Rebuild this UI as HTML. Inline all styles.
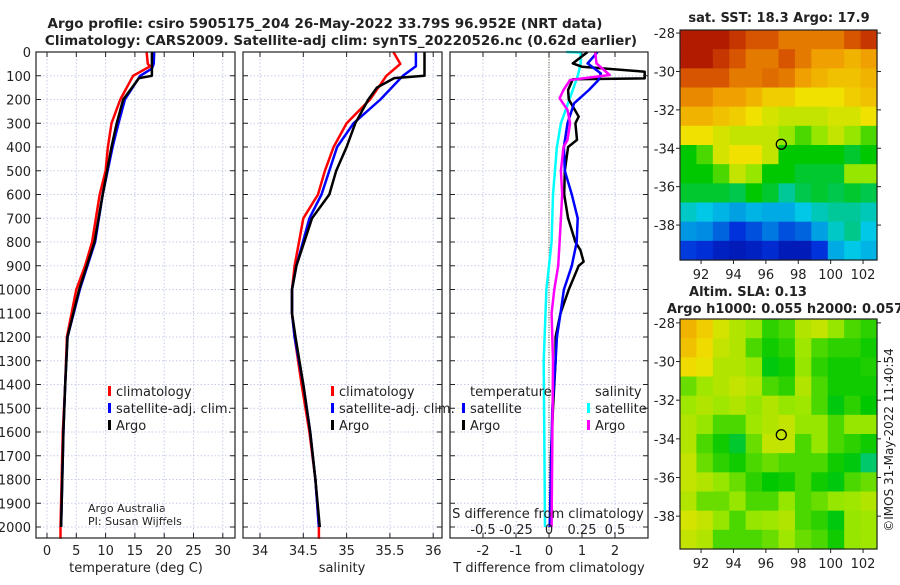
<!DOCTYPE html>
<html><head><meta charset="utf-8"><style>
body{margin:0;background:#fff;font-family:"Liberation Sans","DejaVu Sans",sans-serif}
svg text{font-family:"DejaVu Sans","Liberation Sans",sans-serif;fill:#222}
</style></head><body>
<svg id="s" width="900" height="580" viewBox="0 0 900 580" xmlns="http://www.w3.org/2000/svg">
<text x="325" y="28" text-anchor="middle" font-size="13.5" font-weight="bold">Argo profile: csiro 5905175_204 26-May-2022 33.79S 96.952E (NRT data)</text>
<text x="341" y="45" text-anchor="middle" font-size="13.5" font-weight="bold">Climatology: CARS2009. Satellite-adj clim: synTS_20220526.nc (0.62d earlier)</text>
<text x="779" y="22" text-anchor="middle" font-size="13" font-weight="bold">sat. SST: 18.3 Argo: 17.9</text>
<text x="748" y="296" text-anchor="middle" font-size="13" font-weight="bold">Altim. SLA: 0.13</text>
<text x="785" y="313" text-anchor="middle" font-size="13" font-weight="bold">Argo h1000: 0.055 h2000: 0.057</text>
<text transform="translate(893,440) rotate(-90)" text-anchor="middle" font-size="12">©IMOS 31-May-2022 11:40:54</text>
<text x="88" y="512" font-size="11">Argo Australia</text>
<text x="88" y="525" font-size="11">PI: Susan Wijffels</text>
</svg>
<script>
// ---- data ----
const depthTicks=[0,100,200,300,400,500,600,700,800,900,1000,1100,1200,1300,1400,1500,1600,1700,1800,1900,2000];
const tempTicks=[0,5,10,15,20,25,30];
const salTicks=[34,34.5,35,35.5,36];
const salTickLabels=['34','34.5','35','35.5','36'];
const tdTicks=[-2,-1,0,1,2];
const sdTicks=[-0.5,-0.25,0,0.25,0.5];
const sdTickLabels=['-0.5','-0.25','0','0.25','0.5'];
const lonTicks=[92,94,96,98,100,102];
const latTicks=[-28,-30,-32,-34,-36,-38];

const tClimD=[0,50,60,100,200,300,400,500,600,800,900,1000,1200,1400,1600,2000,2050];
const tClimV=[17,17.2,17.6,14.7,12.5,11,10.4,10,9,7.7,6.5,5,3.4,3.1,2.7,2.3,2.3];
const tSatD=[0,50,70,100,200,300,400,600,800,1000,1200,1400,1600,2000];
const tSatV=[18.3,18.2,17.9,15.9,13.3,12.2,11.2,9.5,8.2,5.6,3.5,3.1,2.8,2.4];
const tArgoD=[0,100,110,200,300,400,600,800,1000,1200,1400,1600,2000];
const tArgoV=[17.9,17.9,15.7,13,11.9,11,9.5,8.1,5.5,3.5,3.1,2.8,2.4];

const sClimD=[0,50,100,200,300,400,500,600,700,800,900,1000,1100,1200,1400,1600,1800,2000,2050];
const sClimV=[35.54,35.62,35.46,35.27,35.0,34.85,34.75,34.67,34.5,34.45,34.4,34.37,34.37,34.4,34.48,34.57,34.64,34.68,34.68];
const sSatD=[0,30,60,100,200,300,400,600,700,900,1000,1100,1200,1400,1600,1800,2000];
const sSatV=[35.8,35.8,35.8,35.65,35.39,35.08,34.89,34.71,34.57,34.42,34.37,34.37,34.4,34.5,34.58,34.64,34.68];
const sArgoD=[0,100,110,150,200,300,400,500,600,700,900,1000,1100,1200,1400,1600,1800,2000];
const sArgoV=[35.9,35.9,35.55,35.35,35.25,35.1,35.0,34.88,34.8,34.6,34.42,34.37,34.37,34.41,34.5,34.58,34.64,34.69];

const dTArgoD=[0,48,62,83,111,115,160,200,272,300,370,400,500,600,700,800,834,883,900,1000,1100,1200,1300,1500,1700,2000];
const dTArgoV=[1.17,0.72,1.0,2.9,2.9,0.72,0.58,0.6,0.9,0.8,0.85,0.58,0.48,0.46,0.58,0.8,0.95,1.05,0.9,0.6,0.35,0.2,0.2,0.12,0.06,0.05];
const dTSatD=[0,48,90,118,160,216,300,400,500,600,700,800,900,1000,1100,1200,1300,1500,2000];
const dTSatV=[1.47,1.17,1.57,1.5,1.21,0.76,0.56,0.45,0.48,0.69,0.87,0.84,0.69,0.45,0.35,0.24,0.2,0.1,0.02];
const dSArgoD=[0,48,97,118,160,195,244,300,370,400,500,600,700,800,900,1000,1100,1300,2000];
const dSArgoV=[0.35,0.36,0.46,0.16,0.11,0.08,0.14,0.16,0.14,0.11,0.09,0.1,0.09,0.08,0.07,0.04,0.02,0.03,0.02];
const dSSatD=[0,2,48,97,160,300,400,600,800,1000,1300,2000];
const dSSatV=[0.13,0.24,0.24,0.22,0.18,0.09,0.06,0.03,0.02,-0.02,-0.04,-0.03];

const sstGrid=[
[0.95,0.95,0.95,0.9,0.85,0.85,0.8,0.8,0.8,0.8,0.85,0.9],
[0.95,0.95,0.9,0.85,0.8,0.8,0.85,0.8,0.75,0.75,0.72,0.75],
[0.85,0.85,0.85,0.8,0.8,0.82,0.8,0.75,0.72,0.7,0.7,0.72],
[0.78,0.78,0.75,0.75,0.72,0.68,0.68,0.65,0.65,0.65,0.68,0.7],
[0.72,0.72,0.7,0.68,0.65,0.62,0.6,0.6,0.6,0.62,0.62,0.65],
[0.65,0.65,0.62,0.6,0.6,0.6,0.55,0.5,0.55,0.6,0.55,0.5],
[0.45,0.5,0.62,0.65,0.65,0.6,0.45,0.45,0.45,0.45,0.42,0.45],
[0.45,0.45,0.5,0.6,0.55,0.45,0.45,0.42,0.42,0.42,0.55,0.55],
[0.42,0.42,0.42,0.4,0.45,0.42,0.35,0.4,0.42,0.4,0.42,0.4],
[0.32,0.3,0.28,0.26,0.28,0.27,0.27,0.3,0.33,0.35,0.35,0.33],
[0.25,0.24,0.2,0.15,0.18,0.22,0.18,0.2,0.26,0.32,0.36,0.3],
[0.16,0.14,0.1,0.08,0.1,0.13,0.08,0.08,0.15,0.27,0.3,0.28]];
const slaGrid=[
[0.72,0.68,0.62,0.58,0.55,0.48,0.5,0.58,0.6,0.55,0.5,0.48],
[0.7,0.66,0.6,0.58,0.5,0.46,0.48,0.56,0.5,0.48,0.48,0.46],
[0.66,0.64,0.58,0.58,0.55,0.44,0.46,0.55,0.48,0.46,0.46,0.47],
[0.52,0.56,0.58,0.6,0.58,0.5,0.48,0.58,0.5,0.46,0.46,0.46],
[0.56,0.58,0.56,0.58,0.55,0.58,0.55,0.56,0.5,0.44,0.48,0.45],
[0.58,0.55,0.5,0.5,0.56,0.58,0.6,0.55,0.55,0.5,0.55,0.55],
[0.58,0.5,0.46,0.42,0.52,0.6,0.6,0.5,0.55,0.5,0.48,0.46],
[0.6,0.52,0.48,0.46,0.5,0.52,0.5,0.5,0.5,0.46,0.44,0.38],
[0.6,0.58,0.55,0.52,0.48,0.45,0.46,0.5,0.46,0.44,0.5,0.52],
[0.58,0.52,0.52,0.55,0.5,0.5,0.55,0.5,0.52,0.55,0.56,0.58],
[0.62,0.6,0.55,0.5,0.55,0.56,0.58,0.5,0.48,0.44,0.55,0.56],
[0.6,0.58,0.5,0.5,0.5,0.52,0.56,0.52,0.5,0.46,0.55,0.56]];
const argoLon=96.952, argoLat=-33.79;

// ---- drawing ----
const S=document.getElementById('s'),NS='http://www.w3.org/2000/svg';
function mk(t,a,p){const e=document.createElementNS(NS,t);for(const k in a)e.setAttribute(k,a[k]);(p||S).appendChild(e);return e;}
const Y0=52,YS=0.2375;
const dy=d=>Y0+d*YS;
function panel(name){
  const g=mk('g',{});
  
  
  return g;
}
function grid(g,x0,x1,xs){
  depthTicks.forEach(d=>{const l=mk('line',{x1:x0,x2:x1,y1:dy(d),y2:dy(d),stroke:'#c8cde8','stroke-dasharray':'1.5,2','stroke-width':1},g);
    });
  xs.forEach(x=>{const l=mk('line',{x1:x,x2:x,y1:Y0,y2:538,stroke:'#c8cde8','stroke-dasharray':'1.5,2','stroke-width':1},g);
    });
}
function frame(g,x0,x1,xs){
  const r=mk('rect',{x:x0,y:Y0,width:x1-x0,height:538-Y0,fill:'none',stroke:'#222','stroke-width':1.2},g);
  
  depthTicks.forEach(d=>{mk('line',{x1:x0,x2:x0+5,y1:dy(d),y2:dy(d),stroke:'#222'},g);mk('line',{x1:x1-5,x2:x1,y1:dy(d),y2:dy(d),stroke:'#222'},g);});
  xs.forEach(x=>{mk('line',{x1:x,x2:x,y1:538,y2:533,stroke:'#222'},g);mk('line',{x1:x,x2:x,y1:Y0,y2:Y0+5,stroke:'#222'},g);});
}
function line(g,D,V,fx,col,name,w){
  const p=D.map((d,i)=>fx(V[i]).toFixed(1)+','+dy(d).toFixed(1)).join(' ');
  const e=mk('polyline',{points:p,fill:'none',stroke:col,'stroke-width':w||2.5,'stroke-linejoin':'round'},g);
  
}
function text(x,y,s,a,fs,name){const t=mk('text',{x:x,y:y,'text-anchor':a||'middle','font-size':fs||13});t.textContent=s;
  return t;}
function legend(x,y,col,label,name){
  const r=mk('rect',{x:x,y:y-10,width:3,height:10,fill:col});
  
  text(x+8,y,label,'start',13,name);
}
depthTicks.forEach(d=>text(31,dy(d)+5,String(d),'end',13,'depth-tick-label'));

// panel 1 temperature
const tx=v=>47+v*5.86;
let g1=panel('temperature-panel');
grid(g1,36,235,tempTicks.map(tx));
line(g1,tClimD,tClimV,tx,'#f00','temp-climatology-line');
line(g1,tSatD,tSatV,tx,'#00f','temp-satellite-line');
line(g1,tArgoD,tArgoV,tx,'#000','temp-argo-line');
frame(g1,36,235,tempTicks.map(tx));
tempTicks.forEach(v=>text(tx(v),555,String(v),'middle',13,'temp-tick-label'));
text(136,572,'temperature (deg C)','middle',13,'temp-axis-title');
legend(108,396,'#f00','climatology','legend-climatology');
legend(108,413,'#00f','satellite-adj. clim.','legend-satellite');
legend(108,430,'#000','Argo','legend-argo');

// panel 2 salinity
const sx=v=>260+(v-34)*86.6;
let g2=panel('salinity-panel');
grid(g2,243,442,salTicks.map(sx));
line(g2,sClimD,sClimV,sx,'#f00','sal-climatology-line');
line(g2,sSatD,sSatV,sx,'#00f','sal-satellite-line');
line(g2,sArgoD,sArgoV,sx,'#000','sal-argo-line');
frame(g2,243,442,salTicks.map(sx));
salTicks.forEach((v,i)=>text(sx(v),555,salTickLabels[i],'middle',13,'sal-tick-label'));
text(342,572,'salinity','middle',13,'sal-axis-title');
legend(331,396,'#f00','climatology','legend-climatology-2');
legend(331,413,'#00f','satellite-adj. clim.','legend-satellite-2');
legend(331,430,'#000','Argo','legend-argo-2');

// panel 3 differences
const dtx=v=>549+v*33, dsx=v=>549+v*132;
let g3=panel('difference-panel');
grid(g3,450,648,tdTicks.map(dtx));
const z=mk('line',{x1:549,x2:549,y1:Y0,y2:538,stroke:'#553',"stroke-dasharray":'1,1.5','stroke-width':1},g3);

line(g3,dSSatD,dSSatV,dsx,'#0ff','sdiff-satellite-line');
line(g3,dTArgoD,dTArgoV,dtx,'#000','tdiff-argo-line');
line(g3,dTSatD,dTSatV,dtx,'#00f','tdiff-satellite-line');
line(g3,dSArgoD,dSArgoV,dsx,'#f0f','sdiff-argo-line');
frame(g3,450,648,tdTicks.map(dtx));
tdTicks.forEach(v=>text(dtx(v),555,String(v),'middle',13,'tdiff-tick-label'));
text(549,572,'T difference from climatology','middle',13,'tdiff-axis-title');
sdTicks.forEach((v,i)=>text(dsx(v),534,sdTickLabels[i],'middle',13,'sdiff-tick-label'));
text(548,518,'S difference from climatology','middle',13,'sdiff-axis-title');
text(470,396,'temperature','start',13,'legend-temperature-header');
legend(462,413,'#00f','satellite','legend-t-satellite');
legend(462,430,'#000','Argo','legend-t-argo');
text(595,396,'salinity','start',13,'legend-salinity-header');
legend(587,413,'#0ff','satellite','legend-s-satellite');
legend(587,430,'#f0f','Argo','legend-s-argo');

// maps
const cmapStops=[[0,[0,0,140]],[0.15,[0,50,220]],[0.3,[0,200,230]],[0.45,[0,200,0]],[0.55,[150,230,0]],[0.65,[240,225,0]],[0.75,[240,160,0]],[0.87,[210,70,0]],[1,[160,0,0]]];
function cmap(v){v=Math.max(0,Math.min(1,v));
  for(let i=1;i<cmapStops.length;i++){const a=cmapStops[i-1],b=cmapStops[i];
    if(v<=b[0]){const t=(v-a[0])/(b[0]-a[0]);return 'rgb('+a[1].map((c,k)=>Math.round(c+(b[1][k]-c)*t)).join(',')+')';}}
  return 'rgb(160,0,0)';}
function map(top,bot,latTop,latBot,grid,name){
  const L=680,R=877,lonL=90.7,lonR=102.86;
  const lx=v=>L+(v-lonL)/(lonR-lonL)*(R-L), ly=v=>top+(latTop-v)/(latTop-latBot)*(bot-top);
  const g=mk('g',{});
  const nr=grid.length,nc=grid[0].length,cw=(R-L)/nc,ch=(bot-top)/nr;
  grid.forEach((row,i)=>row.forEach((v,j)=>{const r=mk('rect',{x:(L+j*cw).toFixed(2),y:(top+i*ch).toFixed(2),width:(cw+0.6).toFixed(2),height:(ch+0.6).toFixed(2),fill:cmap(v)},g);
    }));
  const f=mk('rect',{x:L,y:top,width:R-L,height:bot-top,fill:'none',stroke:'#222','stroke-width':1.2},g);
  
  latTicks.forEach(v=>{mk('line',{x1:L-4,x2:L,y1:ly(v),y2:ly(v),stroke:'#222'},g);mk('line',{x1:R,x2:R+4,y1:ly(v),y2:ly(v),stroke:'#222'},g);
    text(L-5,ly(v)+5,String(v),'end',13,'lat-tick-label');});
  lonTicks.forEach(v=>{mk('line',{x1:lx(v),x2:lx(v),y1:bot,y2:bot+4,stroke:'#222'},g);
    text(lx(v),bot+19,String(v),'middle',13,'lon-tick-label');});
  const c=mk('circle',{cx:lx(argoLon),cy:ly(argoLat),r:5,fill:'none',stroke:'#000','stroke-width':1.3},g);
  
}
map(30,260,-27.84,-39.82,sstGrid,'sst-map');
map(319,549,-27.8,-39.7,slaGrid,'sla-map');
</script>
</body></html>
